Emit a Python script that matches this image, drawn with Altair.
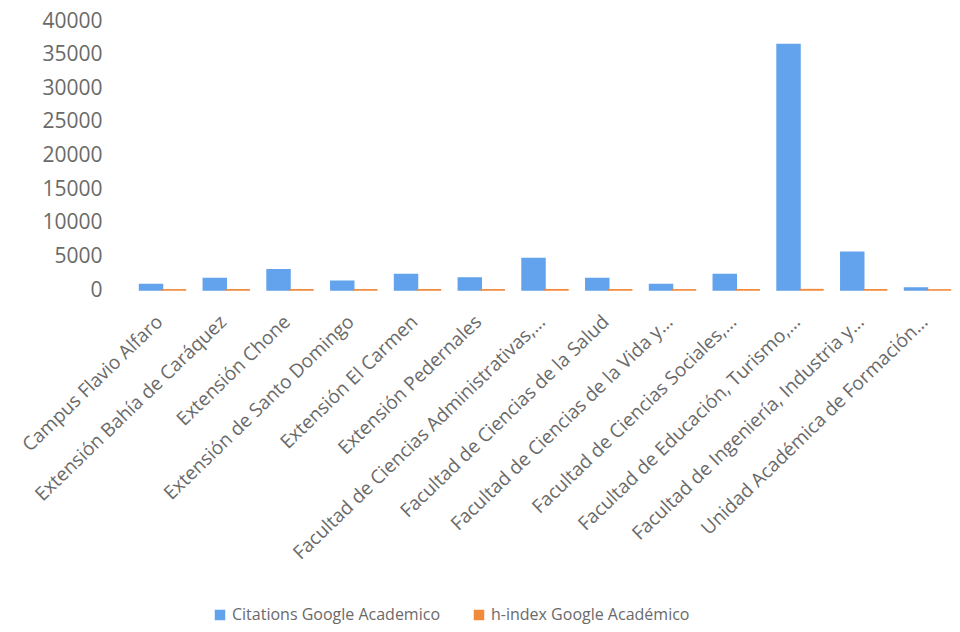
import altair as alt
import pandas as pd

categories = [
    "Campus Flavio Alfaro",
    "Extensión Bahía de Caráquez",
    "Extensión Chone",
    "Extensión de Santo Domingo",
    "Extensión El Carmen",
    "Extensión Pedernales",
    "Facultad de Ciencias Administrativas,…",
    "Facultad de Ciencias de la Salud",
    "Facultad de Ciencias de la Vida y…",
    "Facultad de Ciencias Sociales,…",
    "Facultad de Educación, Turismo,…",
    "Facultad de Ingeniería, Industria y…",
    "Unidad Académica de Formación…",
]
citations = [800, 1700, 3000, 1300, 2300, 1800, 4700, 1700, 800, 2300, 36500, 5600, 300]
hindex = [25, 35, 40, 30, 35, 30, 45, 30, 25, 35, 60, 40, 15]
series = ["Citations Google Academico", "h-index Google Académico"]
colors = ["#63A2EC", "#F28A3C"]
legend_colors = ["#6AA8F0", "#F5A04A"]

rows = []
for c, v1, v2 in zip(categories, citations, hindex):
    rows.append({"cat": c, "series": series[0], "value": v1})
    rows.append({"cat": c, "series": series[1], "value": v2})
df = pd.DataFrame(rows)

FONT = "Open Sans"
GREY = "#6a6a6a"

chart = alt.Chart(df).mark_bar(strokeWidth=1.5).encode(
    x=alt.X("cat:N", sort=categories, title=None,
            scale=alt.Scale(paddingInner=0.28, paddingOuter=0.15),
            axis=alt.Axis(labelAngle=-44, labelFontSize=19, labelColor=GREY,
                          labelFont=FONT, ticks=False, domain=False, grid=False,
                          labelPadding=22, labelOffset=-9, labelLimit=500)),
    xOffset=alt.XOffset("series:N", sort=series),
    y=alt.Y("value:Q", title=None,
            scale=alt.Scale(domain=[0, 40000], nice=False),
            axis=alt.Axis(values=list(range(0, 40001, 5000)), format="d",
                          labelFontSize=21, labelColor=GREY, labelFont=FONT,
                          ticks=False, domain=False, grid=False, labelPadding=28)),
    color=alt.Color("series:N", sort=series,
                    scale=alt.Scale(domain=series, range=colors),
                    legend=alt.Legend(title=None, orient="none", direction="horizontal",
                                      legendX=82, legendY=586, symbolType="square",
                                      symbolSize=110, symbolStrokeWidth=0,
                                      labelFontSize=16, labelColor=GREY,
                                      labelFont=FONT, columnPadding=30,
                                      labelLimit=500)),
    stroke=alt.Stroke("series:N", sort=series,
                      scale=alt.Scale(domain=series, range=colors), legend=None),
).properties(
    width=830, height=269,
    background="white",
    autosize=alt.AutoSizeParams(type="none"),
    padding={"left": 130, "top": 21, "right": 0, "bottom": 342},
).configure_view(stroke=None)

chart.save("out.html", embed_options={"renderer": "svg", "actions": False})
